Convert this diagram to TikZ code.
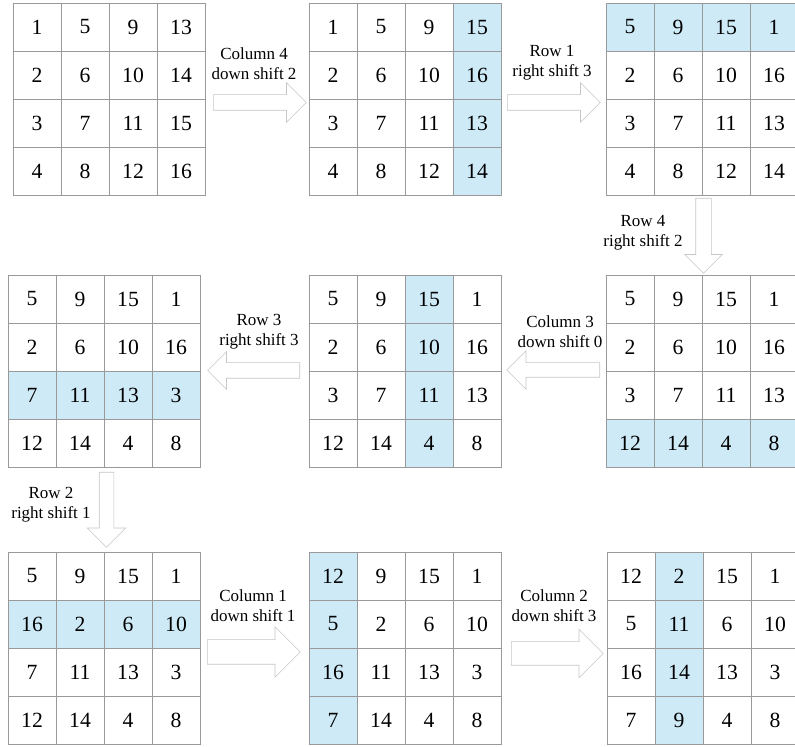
\documentclass[tikz,border=0pt]{standalone}
\usepackage{fontspec}
\setmainfont{Liberation Serif}
\usetikzlibrary{calc, shapes.arrows, backgrounds, positioning}

\definecolor{hlblue}{RGB}{206,234,247}
\tikzset{
  cell/.style={draw=gray!80, line width=0.6pt, minimum size=1.44cm, inner sep=0pt, font=\fontsize{18.5}{18.5}\selectfont},
  shiftarrow/.style={single arrow, draw=gray!45, fill=white, line width=0.5pt, inner xsep=0pt, single arrow tip angle=90, anchor=tail},
  steplabel/.style={align=center, font=\fontsize{14.5}{17}\selectfont},
}

% #1 grid name, #2 top left corner, #3 the 16 entries row by row
\newcommand{\shiftgrid}[3]{%
  \foreach \v [count=\i from 0] in {#3} {
    \pgfmathtruncatemacro{\gr}{div(\i,4)}
    \pgfmathtruncatemacro{\gc}{mod(\i,4)}
    \node[cell] (#1-\gr-\gc) at ($(#2)+(\gc*1.44+0.72,-\gr*1.44-0.72)$) {\v};
  }
}

\begin{document}
\begin{tikzpicture}
    \useasboundingbox (0,0) rectangle (23.85,22.41);

    % top row
    \shiftgrid{g1}{0.39,22.32}{1,5,9,13,2,6,10,14,3,7,11,15,4,8,12,16}
    \shiftgrid{g2}{9.27,22.32}{1,5,9,15,2,6,10,16,3,7,11,13,4,8,12,14}
    \shiftgrid{g3}{18.18,22.32}{5,9,15,1,2,6,10,16,3,7,11,13,4,8,12,14}
    % middle row
    \shiftgrid{g4}{18.18,14.16}{5,9,15,1,2,6,10,16,3,7,11,13,12,14,4,8}
    \shiftgrid{g5}{9.27,14.16}{5,9,15,1,2,6,10,16,3,7,11,13,12,14,4,8}
    \shiftgrid{g6}{0.24,14.16}{5,9,15,1,2,6,10,16,7,11,13,3,12,14,4,8}
    % bottom row
    \shiftgrid{g7}{0.24,5.85}{5,9,15,1,16,2,6,10,7,11,13,3,12,14,4,8}
    \shiftgrid{g8}{9.27,5.85}{12,9,15,1,5,2,6,10,16,11,13,3,7,14,4,8}
    \shiftgrid{g9}{18.21,5.85}{12,2,15,1,5,11,6,10,16,14,13,3,7,9,4,8}

    % shifted rows and columns
    \begin{scope}[on background layer]
        \fill[hlblue] (g2-0-3.north west) rectangle (g2-3-3.south east);
        \fill[hlblue] (g3-0-0.north west) rectangle (g3-0-3.south east);
        \fill[hlblue] (g4-3-0.north west) rectangle (g4-3-3.south east);
        \fill[hlblue] (g5-0-2.north west) rectangle (g5-3-2.south east);
        \fill[hlblue] (g6-2-0.north west) rectangle (g6-2-3.south east);
        \fill[hlblue] (g7-1-0.north west) rectangle (g7-1-3.south east);
        \fill[hlblue] (g8-0-0.north west) rectangle (g8-3-0.south east);
        \fill[hlblue] (g9-0-1.north west) rectangle (g9-3-1.south east);
    \end{scope}

    % arrows
    \node[shiftarrow, minimum height=2.79cm, inner ysep=0.225cm, single arrow head extend=0.36cm] (a1) at (6.39,19.335) {};
    \node[shiftarrow, minimum height=2.79cm, inner ysep=0.225cm, single arrow head extend=0.36cm] (a2) at (15.21,19.335) {};
    \node[shiftarrow, rotate=-90, minimum height=2.25cm, inner ysep=0.225cm, single arrow head extend=0.33cm] (a3) at (21.105,16.47) {};
    \node[shiftarrow, rotate=180, minimum height=2.79cm, inner ysep=0.21cm, single arrow head extend=0.36cm] (a4) at (18.0,11.31) {};
    \node[shiftarrow, rotate=180, minimum height=2.76cm, inner ysep=0.225cm, single arrow head extend=0.33cm] (a5) at (9.0,11.295) {};
    \node[shiftarrow, rotate=-90, minimum height=2.25cm, inner ysep=0.21cm, single arrow head extend=0.36cm] (a6) at (3.195,8.25) {};
    \node[shiftarrow, minimum height=2.79cm, inner ysep=0.36cm, single arrow head extend=0.39cm] (a7) at (6.21,2.85) {};
    \node[shiftarrow, minimum height=2.76cm, inner ysep=0.345cm, single arrow head extend=0.375cm] (a8) at (15.33,2.805) {};

    % labels
    \node[steplabel] (l1) at (7.62,20.49) {Column 4\\down shift 2};
    \node[steplabel] (l2) at (16.56,20.52) {Row 1\\right shift 3};
    \node[steplabel] (l3) at (19.29,15.42) {Row 4\\right shift 2};
    \node[steplabel] (l4) at (16.8,12.45) {Column 3\\down shift 0};
    \node[steplabel] (l5) at (7.77,12.45) {Row 3\\right shift 3};
    \node[steplabel] (l6) at (1.53,7.26) {Row 2\\right shift 1};
    \node[steplabel] (l7) at (7.59,4.23) {Column 1\\down shift 1};
    \node[steplabel] (l8) at (16.62,4.23) {Column 2\\down shift 3};
\end{tikzpicture}
\end{document}
